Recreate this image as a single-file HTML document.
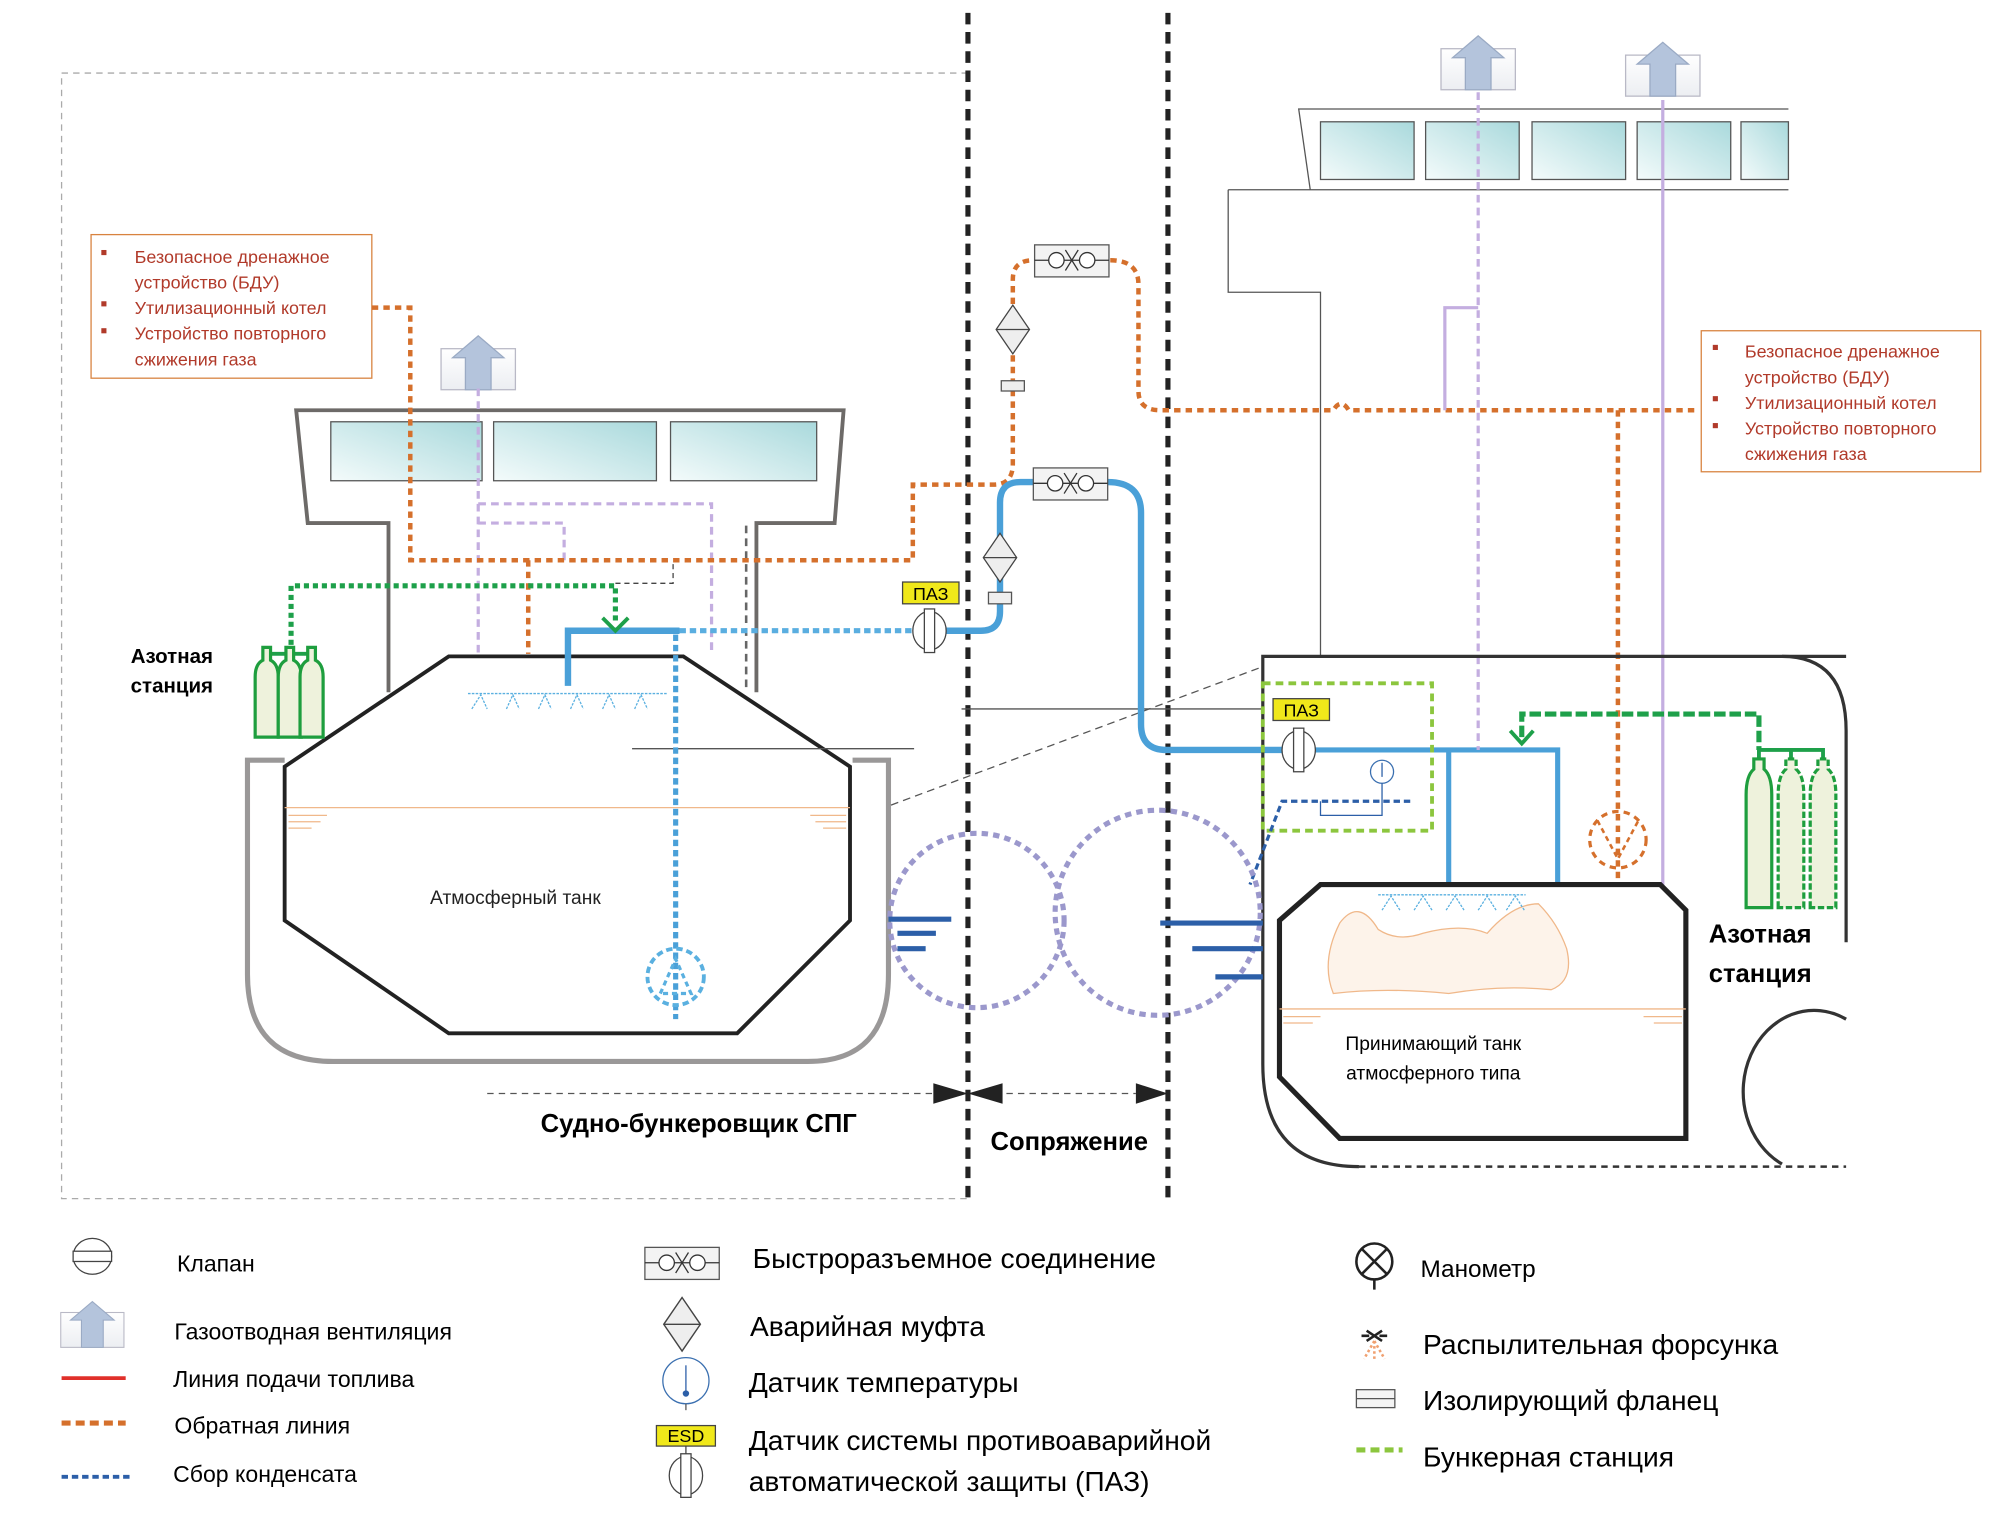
<!DOCTYPE html>
<html><head><meta charset="utf-8"><style>
html,body{margin:0;padding:0;background:#fff}
svg{display:block}
text{font-family:"Liberation Sans",sans-serif}
</style></head><body>
<svg width="2000" height="1523" viewBox="0 0 1560 1188" xmlns="http://www.w3.org/2000/svg">
<defs>
<linearGradient id="win" x1="0" y1="1" x2="1" y2="0"><stop offset="0" stop-color="#f4fbfb"/><stop offset="1" stop-color="#a9d9dc"/></linearGradient>
<linearGradient id="vent" x1="0" y1="0" x2="0" y2="1"><stop offset="0" stop-color="#ffffff"/><stop offset="1" stop-color="#eceef2"/></linearGradient>
<g id="ventico">
<rect x="-29" y="-12" width="58" height="32" fill="url(#vent)" stroke="#b9b9c6" stroke-width="1"/>
<path d="M-10,20 V-5 H-20 L0,-22 L20,-5 H10 V20 Z" fill="#b4c4dc" stroke="#9aaac4" stroke-width="1"/>
</g>
<g id="coup">
<rect x="-29" y="-12" width="58" height="25" fill="#f3f3f3" stroke="#555" stroke-width="1"/>
<line x1="-29" y1="0" x2="29" y2="0" stroke="#333" stroke-width="1"/>
<circle cx="-12" cy="0" r="6" fill="#fff" stroke="#333"/><circle cx="12" cy="0" r="6" fill="#fff" stroke="#333"/>
<path d="M-5,-8 L0,0 L-5,8 M5,-8 L0,0 L5,8" fill="none" stroke="#333"/>
</g>
<g id="dia"><path d="M0,-19 L13,0 L0,19 L-13,0 Z" fill="#eee" stroke="#444"/><line x1="-13" y1="0" x2="13" y2="0" stroke="#444"/></g>
<g id="valve"><ellipse cx="0" cy="0" rx="13" ry="15" fill="#fff" stroke="#444"/><rect x="-4" y="-17" width="8" height="34" fill="#fff" stroke="#444"/></g>
<g id="cyl"><path d="M-9,65 V18 Q-9,8 -3,5 V-5 H3 V5 Q9,8 9,18 V65 Z" fill="#eef2dc" stroke="#1e9e3e" stroke-width="2.5"/></g>
</defs>

<path d="M755,57 H48 V935 H755" fill="none" stroke="#aaa" stroke-width="1" stroke-dasharray="5,4"/>
<line x1="755" y1="10" x2="755" y2="940" stroke="#222" stroke-width="4" stroke-dasharray="9,6"/>
<line x1="911" y1="10" x2="911" y2="940" stroke="#222" stroke-width="4" stroke-dasharray="9,6"/>

<rect x="71" y="183" width="219" height="112" fill="#fff" stroke="#d8833f" stroke-width="1"/>
<g font-size="14" fill="#b13a2a">
<rect x="79" y="195" width="4" height="4"/><rect x="79" y="235" width="4" height="4"/><rect x="79" y="256" width="4" height="4"/>
<text x="105" y="205">Безопасное дренажное</text><text x="105" y="225">устройство (БДУ)</text>
<text x="105" y="245">Утилизационный котел</text><text x="105" y="265">Устройство повторного</text><text x="105" y="285">сжижения газа</text>
</g>

<rect x="1327" y="258" width="218" height="110" fill="#fff" stroke="#d8833f" stroke-width="1"/>
<g font-size="14" fill="#b13a2a">
<rect x="1336" y="269" width="4" height="4"/><rect x="1336" y="309" width="4" height="4"/><rect x="1336" y="330" width="4" height="4"/>
<text x="1361" y="279">Безопасное дренажное</text><text x="1361" y="299">устройство (БДУ)</text>
<text x="1361" y="319">Утилизационный котел</text><text x="1361" y="339">Устройство повторного</text><text x="1361" y="359">сжижения газа</text>
</g>

<path d="M303,540 V408 H240 L231,320 H658 L651,408 H590 V540" fill="none" stroke="#6d6a68" stroke-width="3"/>
<rect x="258" y="329" width="118" height="46" fill="url(#win)" stroke="#555"/>
<rect x="385" y="329" width="127" height="46" fill="url(#win)" stroke="#555"/>
<rect x="523" y="329" width="114" height="46" fill="url(#win)" stroke="#555"/>
<use href="#ventico" x="373" y="284"/>

<path d="M222,593 H193 V760 Q193,828 260,828 H630 Q693,828 693,760 V593 H665" fill="none" stroke="#9a9898" stroke-width="4"/>
<path d="M350,512 H533 L663,598 V718 L575,806 H350 L222,718 V598 Z" fill="#fff" stroke="#222" stroke-width="3"/>
<line x1="222" y1="630" x2="663" y2="630" stroke="#f0b88a" stroke-width="1"/>
<path d="M225,636 H255 M225,641 H250 M225,646 H243 M660,636 H632 M660,641 H636 M660,646 H642" stroke="#f0b88a" stroke-width="1"/>
<text x="402" y="705" font-size="15" text-anchor="middle" fill="#222">Атмосферный танк</text>
<line x1="365" y1="541" x2="520" y2="541" stroke="#5ab0e0" stroke-width="1" stroke-dasharray="2,1"/>
<path d="M368,553 L375,542 L380,553 M395,553 L400,542 L405,553 M420,553 L425,542 L430,553 M445,553 L450,542 L455,553 M470,553 L475,542 L480,553 M495,553 L500,542 L505,553" fill="none" stroke="#5ab0e0" stroke-width="1" stroke-dasharray="2,1"/>
<line x1="493" y1="584" x2="713" y2="584" stroke="#555" stroke-width="1"/>
<line x1="695" y1="628" x2="985" y2="520" stroke="#555" stroke-width="1" stroke-dasharray="6,4"/>
<line x1="750" y1="553" x2="985" y2="553" stroke="#555" stroke-width="1"/>

<g stroke="#c4aee0" stroke-width="2.5" fill="none" stroke-dasharray="6,4">
<path d="M373,303 V512"/><path d="M373,393 H555 V510"/><path d="M373,408 H440 V437"/>
</g>
<path d="M582,410 V540" stroke="#666" stroke-width="2" stroke-dasharray="6,4"/>
<path d="M480,455 H525 V437" stroke="#444" stroke-width="1" fill="none" stroke-dasharray="4,3"/>

<g stroke="#d5702c" stroke-width="3.5" fill="none" stroke-dasharray="5,4">
<path d="M290,240 H320 V437 H712 V378 H775 Q790,378 790,362 V218 Q790,203 806,203"/>
<path d="M866,203 Q888,203 888,222 V305 Q888,320 905,320 H1040 Q1046,310 1052,320 H1325"/>
<path d="M412,437 V510"/>
<path d="M1262,320 V690"/>
</g>
<circle cx="1262" cy="655" r="22" fill="none" stroke="#d5702c" stroke-width="2.5" stroke-dasharray="5,4"/>
<path d="M1246,640 L1262,670 L1278,640" fill="none" stroke="#d5702c" stroke-width="2" stroke-dasharray="4,3"/>
<use href="#coup" x="836" y="203"/>
<use href="#dia" x="790" y="257"/>
<rect x="781" y="297" width="18" height="8" fill="#eee" stroke="#555"/>

<path d="M443,535 V492 H530" stroke="#4aa0d8" stroke-width="5" fill="none"/>
<path d="M530,492 H712" stroke="#5aaee0" stroke-width="4" fill="none" stroke-dasharray="5,3"/>
<path d="M527,495 V795" stroke="#4aa0d8" stroke-width="4" fill="none" stroke-dasharray="5,3"/>
<circle cx="527" cy="762" r="22" fill="none" stroke="#5ab0e0" stroke-width="3" stroke-dasharray="5,3"/>
<path d="M515,775 L527,748 L539,775 Z" fill="none" stroke="#5ab0e0" stroke-width="2.5" stroke-dasharray="4,3"/>
<path d="M738,492 H765 Q780,492 780,477 V392 Q780,376 796,376 H806" stroke="#4aa0d8" stroke-width="5" fill="none"/>
<path d="M864,376 Q890,376 890,400 V565 Q890,585 910,585 H1000" stroke="#4aa0d8" stroke-width="5" fill="none"/>
<path d="M1026,585 H1215 V878 M1130,585 V690" stroke="#4aa0d8" stroke-width="4" fill="none"/>
<use href="#coup" x="835" y="377"/>
<use href="#dia" x="780" y="435"/>
<rect x="771" y="462" width="18" height="9" fill="#eee" stroke="#555"/>
<use href="#valve" x="725" y="492"/>
<rect x="704" y="454" width="44" height="17" fill="#f0e81a" stroke="#444"/>
<text x="726" y="468" font-size="14" text-anchor="middle">ПАЗ</text>
<use href="#valve" x="1013" y="585"/>
<rect x="993" y="545" width="44" height="17" fill="#f0e81a" stroke="#444"/>
<text x="1015" y="559" font-size="14" text-anchor="middle">ПАЗ</text>

<path d="M227,510 V457 H480 V485" stroke="#1ea04a" stroke-width="4" fill="none" stroke-dasharray="4,3"/>
<path d="M470,482 L480,492 L490,482" stroke="#1ea04a" stroke-width="3" fill="none"/>
<path d="M208,517 V510 H245 V517 M226,510 V517" stroke="#1ea04a" stroke-width="3" fill="none"/>
<use href="#cyl" x="208" y="510"/><use href="#cyl" x="226" y="510"/><use href="#cyl" x="243" y="510"/>
<text x="134" y="517" font-size="16" font-weight="bold" text-anchor="middle">Азотная</text>
<text x="134" y="540" font-size="16" font-weight="bold" text-anchor="middle">станция</text>

<path d="M1395,85 H1013 L1022,148 M958,148 H1395 M958,148 V228 H1030 V512" fill="none" stroke="#555" stroke-width="1"/>
<rect x="1030" y="95" width="73" height="45" fill="url(#win)" stroke="#555"/>
<rect x="1112" y="95" width="73" height="45" fill="url(#win)" stroke="#555"/>
<rect x="1195" y="95" width="73" height="45" fill="url(#win)" stroke="#555"/>
<rect x="1277" y="95" width="73" height="45" fill="url(#win)" stroke="#555"/>
<rect x="1358" y="95" width="37" height="45" fill="url(#win)" stroke="#555"/>
<use href="#ventico" x="1153" y="50"/>
<use href="#ventico" x="1297" y="55"/>
<path d="M1153,72 V585" stroke="#c4aee0" stroke-width="2.5" stroke-dasharray="6,4" fill="none"/>
<path d="M1297,78 V700 M1127,320 V240 H1153" stroke="#c4aee0" stroke-width="2.5" fill="none"/>

<path d="M1440,512 H985 V830 Q985,910 1060,910" fill="none" stroke="#333" stroke-width="2.5"/>
<path d="M1060,910 H1440" stroke="#333" stroke-width="2" stroke-dasharray="5,4"/>
<path d="M1390,512 Q1440,512 1440,570 V735" fill="none" stroke="#333" stroke-width="2.5"/>
<path d="M1440,795 A48,55 0 0 0 1390,908" fill="none" stroke="#333" stroke-width="2.5"/>
<path d="M1030,690 H1295 L1315,710 V888 H1045 L998,840 V718 Z" fill="#fff" stroke="#222" stroke-width="4"/>
<path d="M1045,720 Q1060,700 1075,725 Q1090,735 1110,728 Q1140,720 1160,728 Q1180,705 1200,705 Q1215,720 1222,740 Q1228,765 1210,772 Q1170,768 1130,775 Q1080,770 1040,775 Q1030,750 1045,720 Z" fill="#fdf3ea" stroke="#f0b88a" stroke-width="1"/>
<line x1="998" y1="787" x2="1315" y2="787" stroke="#f0b88a" stroke-width="1"/>
<path d="M1001,793 H1030 M1001,798 H1024 M1312,793 H1282 M1312,798 H1290" stroke="#f0b88a"/>
<path d="M1075,698 H1190 M1078,710 L1085,699 L1092,710 M1103,710 L1110,699 L1117,710 M1128,710 L1135,699 L1142,710 M1153,710 L1160,699 L1167,710 M1175,710 L1182,699 L1189,710" fill="none" stroke="#5ab0e0" stroke-width="1" stroke-dasharray="2,1"/>
<text x="1118" y="819" font-size="15" text-anchor="middle">Принимающий танк</text>
<text x="1118" y="842" font-size="15" text-anchor="middle">атмосферного типа</text>
<rect x="985" y="533" width="132" height="115" fill="none" stroke="#8cc63e" stroke-width="3" stroke-dasharray="6,4"/>
<path d="M1100,625 H1000 L975,690" stroke="#2c5fa8" stroke-width="2.5" fill="none" stroke-dasharray="5,3"/>
<circle cx="1078" cy="602" r="9" fill="#fff" stroke="#3a6fb0"/><line x1="1078" y1="595" x2="1078" y2="606" stroke="#2c5fa8"/>
<path d="M1078,611 V636 H1030 V625" stroke="#2c5fa8" fill="none"/>

<path d="M1187,575 V557 H1372 V585" stroke="#1ea04a" stroke-width="4" fill="none" stroke-dasharray="9,3"/>
<path d="M1178,570 L1187,580 L1196,570" stroke="#1ea04a" stroke-width="3" fill="none"/>
<path d="M1372,585 V592 M1372,585 H1422 V592 M1397,585 V592" stroke="#1ea04a" stroke-width="3" fill="none"/>
<path d="M1362,708 V620 Q1362,605 1368,600 V592 H1376 V600 Q1382,605 1382,620 V708 Z" fill="#eef2dc" stroke="#1e9e3e" stroke-width="2.5"/>
<path d="M1387,708 V620 Q1387,605 1393,600 V592 H1401 V600 Q1407,605 1407,620 V708 Z" fill="#eef2dc" stroke="#1e9e3e" stroke-width="2.5" stroke-dasharray="5,2"/>
<path d="M1412,708 V620 Q1412,605 1418,600 V592 H1426 V600 Q1432,605 1432,620 V708 Z" fill="#eef2dc" stroke="#1e9e3e" stroke-width="2.5" stroke-dasharray="5,2"/>
<text x="1373" y="735" font-size="20" font-weight="bold" text-anchor="middle">Азотная</text>
<text x="1373" y="766" font-size="20" font-weight="bold" text-anchor="middle">станция</text>

<circle cx="762" cy="718" r="68" fill="none" stroke="#9b98cc" stroke-width="4" stroke-dasharray="5,4"/>
<circle cx="903" cy="712" r="80" fill="none" stroke="#9b98cc" stroke-width="4" stroke-dasharray="5,4"/>
<path d="M693,717 H742 M700,728 H730 M700,740 H722" stroke="#2c5fa8" stroke-width="4"/>
<path d="M905,720 H985 M930,740 H985 M948,762 H985" stroke="#2c5fa8" stroke-width="4"/>

<path d="M380,853 H730 M785,853 H886" stroke="#555" stroke-width="1" stroke-dasharray="5,4"/>
<path d="M728,845 L755,853 L728,861 Z M782,845 L755,853 L782,861 Z M886,845 L911,853 L886,861 Z" fill="#222"/>
<text x="545" y="883" font-size="20" font-weight="bold" text-anchor="middle">Судно-бункеровщик СПГ</text>
<text x="834" y="897" font-size="20" font-weight="bold" text-anchor="middle">Сопряжение</text>

<g transform="translate(72,980)"><ellipse rx="15" ry="14" fill="#fff" stroke="#444"/><rect x="-15" y="-4" width="30" height="8" fill="#fff" stroke="#444"/></g>
<text x="138" y="992" font-size="18">Клапан</text>
<g transform="translate(72,1034) scale(0.85)"><use href="#ventico"/></g>
<text x="136" y="1045" font-size="18">Газоотводная вентиляция</text>
<line x1="48" y1="1075" x2="98" y2="1075" stroke="#e0302a" stroke-width="3"/>
<text x="135" y="1082" font-size="18">Линия подачи топлива</text>
<line x1="48" y1="1110" x2="98" y2="1110" stroke="#d5702c" stroke-width="4" stroke-dasharray="7,4"/>
<text x="136" y="1118" font-size="18">Обратная линия</text>
<line x1="48" y1="1152" x2="102" y2="1152" stroke="#2c5fa8" stroke-width="3" stroke-dasharray="5,3"/>
<text x="135" y="1156" font-size="18">Сбор конденсата</text>

<use href="#coup" x="532" y="985"/>
<text x="587" y="989" font-size="22">Быстроразъемное соединение</text>
<g transform="translate(532,1033) scale(1.1)"><use href="#dia"/></g>
<text x="585" y="1042" font-size="22">Аварийная муфта</text>
<ellipse cx="535" cy="1077" rx="18" ry="18" fill="#fff" stroke="#3a6fb0"/><line x1="535" y1="1065" x2="535" y2="1086" stroke="#2c5fa8"/><circle cx="535" cy="1087" r="2.5" fill="#2c5fa8"/><line x1="535" y1="1095" x2="535" y2="1100" stroke="#555"/>
<text x="584" y="1086" font-size="22">Датчик температуры</text>
<rect x="512" y="1112" width="46" height="16" fill="#f0e81a" stroke="#444"/>
<text x="535" y="1125" font-size="14" text-anchor="middle">ESD</text>
<line x1="535" y1="1128" x2="535" y2="1135" stroke="#444"/>
<use href="#valve" x="535" y="1151"/>
<text x="584" y="1131" font-size="22">Датчик системы противоаварийной</text>
<text x="584" y="1163" font-size="22">автоматической защиты (ПАЗ)</text>

<circle cx="1072" cy="984" r="14" fill="#fff" stroke="#222" stroke-width="2"/><path d="M1062,974 L1082,994 M1082,974 L1062,994 M1072,998 V1006" stroke="#222" stroke-width="2"/>
<text x="1108" y="996" font-size="19">Манометр</text>
<path d="M1062,1042 H1068 M1076,1042 H1082 M1066,1038 L1078,1046 M1078,1038 L1066,1046" stroke="#222" stroke-width="2"/>
<path d="M1072,1046 L1064,1060 M1072,1046 L1072,1060 M1072,1046 L1080,1060" stroke="#f0a070" stroke-width="2" stroke-dasharray="2,2"/>
<text x="1110" y="1056" font-size="22">Распылительная форсунка</text>
<rect x="1058" y="1084" width="30" height="14" fill="#f4f4f4" stroke="#555"/><line x1="1058" y1="1091" x2="1088" y2="1091" stroke="#555"/>
<text x="1110" y="1100" font-size="22">Изолирующий фланец</text>
<line x1="1058" y1="1131" x2="1094" y2="1131" stroke="#8cc63e" stroke-width="4" stroke-dasharray="7,4"/>
<text x="1110" y="1144" font-size="22">Бункерная станция</text>
</svg>
</body></html>
